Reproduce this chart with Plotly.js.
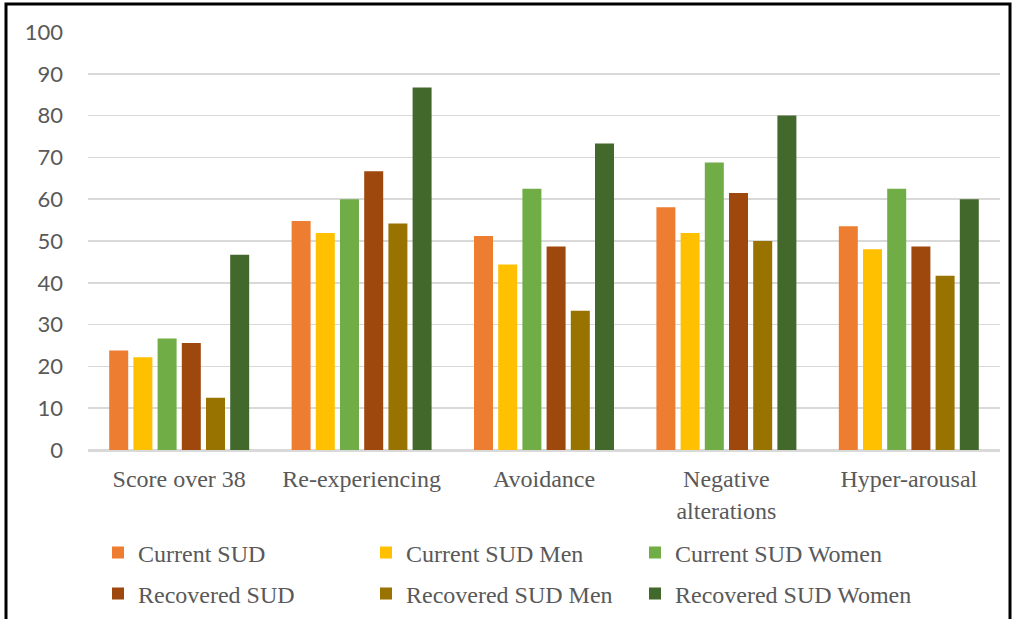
<!DOCTYPE html>
<html>
<head>
<meta charset="utf-8">
<script src="https://cdn.plot.ly/plotly-3.0.1.min.js"></script>
<style>
  html, body { margin: 0; padding: 0; background: #fff; }
  #chart { width: 1015px; height: 619px; }
</style>
</head>
<body>
<div id="chart"></div>
<script>
const categories = ["Score over 38", "Re-experiencing", "Avoidance", "Negative<br>alterations", "Hyper-arousal"];
const seriesNames = ["Current SUD", "Current SUD Men", "Current SUD Women", "Recovered SUD", "Recovered SUD Men", "Recovered SUD Women"];
const currentSUD = [23.8, 54.8, 51.2, 58.1, 53.5];
const currentSUDMen = [22.2, 51.9, 44.4, 51.9, 48.0];
const currentSUDWomen = [26.7, 60.0, 62.5, 68.8, 62.5];
const recoveredSUD = [25.6, 66.7, 48.7, 61.5, 48.7];
const recoveredSUDMen = [12.5, 54.2, 33.3, 50.0, 41.7];
const recoveredSUDWomen = [46.7, 86.7, 73.3, 80.0, 60.0];
const yTicks = [0, 10, 20, 30, 40, 50, 60, 70, 80, 90, 100];

const seriesValues = [currentSUD, currentSUDMen, currentSUDWomen, recoveredSUD, recoveredSUDMen, recoveredSUDWomen];
const colors = ["#ED7D31", "#FFC000", "#70AD47", "#9E480E", "#997300", "#43682B"];
const legendIds = ["legend", "legend2", "legend3", "legend4", "legend5", "legend6"];
// legend entry placement (text start x, row centre y), in page pixels
const legendTextX = [138, 406, 675, 138, 406, 675];
const legendRowY = [553, 553, 553, 594, 594, 594];

const traces = seriesNames.map((name, i) => ({
  type: "bar",
  name: name,
  x: categories,
  y: seriesValues[i],
  marker: { color: colors[i], line: { width: 0 } },
  legend: legendIds[i],
  hoverinfo: "x+y+name"
}));

const serif = "'Liberation Serif', 'Times New Roman', serif";
const gray = "#595959";

const layout = {
  width: 1015,
  height: 619,
  margin: { l: 88, r: 15, t: 32, b: 169 },
  paper_bgcolor: "#ffffff",
  plot_bgcolor: "#ffffff",
  barmode: "group",
  bargap: 0.204,
  bargroupgap: 0.215,
  showlegend: true,
  xaxis: {
    type: "category",
    showgrid: false,
    showline: true,
    linecolor: "#d9d9d9",
    linewidth: 1.5,
    ticks: "",
    tickfont: { family: serif, size: 24, color: gray },
    ticklabelstandoff: 7
  },
  yaxis: {
    range: [0, 100],
    tickvals: yTicks,
    ticktext: yTicks.map(String),
    showgrid: true,
    gridcolor: "#d9d9d9",
    gridwidth: 1.5,
    zeroline: true,
    zerolinecolor: "#d9d9d9",
    zerolinewidth: 1.5,
    showline: false,
    ticks: "",
    tickfont: { family: "Lato, 'Open Sans', sans-serif", size: 22, color: gray },
    ticklabelstandoff: 24
  },
  shapes: [{
    type: "rect",
    xref: "paper", yref: "paper",
    x0: (6 - 88) / 912, x1: (1010 - 88) / 912,
    y0: -0.6, y1: (450 - 4) / 418,
    line: { color: "#000000", width: 3 },
    fillcolor: "rgba(0,0,0,0)",
    layer: "above"
  }]
};

legendIds.forEach((id, i) => {
  layout[id] = {
    orientation: "h",
    xref: "container",
    yref: "container",
    x: (legendTextX[i] - 40) / 1015,
    y: 1 - legendRowY[i] / 619,
    xanchor: "left",
    yanchor: "middle",
    font: { family: serif, size: 24, color: gray },
    bgcolor: "rgba(0,0,0,0)"
  };
});

Plotly.newPlot("chart", traces, layout, { displayModeBar: false, staticPlot: true });
</script>
</body>
</html>
